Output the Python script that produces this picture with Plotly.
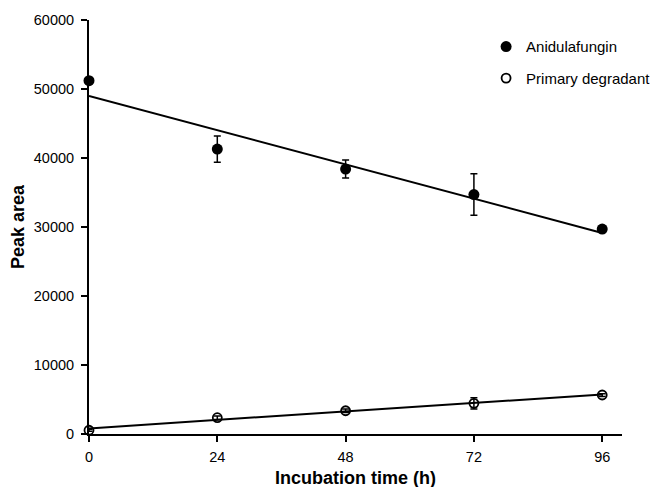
import numpy as np
import plotly.graph_objects as go

time_h = [0, 24, 48, 72, 96]
anid_area = [51200, 41300, 38400, 34700, 29700]
anid_err = [300, 1900, 1300, 3000, 400]
degr_area = [540, 2360, 3370, 4440, 5650]
degr_err = [150, 250, 250, 800, 200]
x_ticks = [0, 24, 48, 72, 96]
y_ticks = [0, 10000, 20000, 30000, 40000, 50000, 60000]

font_family = "Liberation Sans, Arial, sans-serif"

fig = go.Figure()

xfit = np.array([min(time_h), max(time_h)])
for vals in (anid_area, degr_area):
    slope, icpt = np.polyfit(time_h, vals, 1)
    fig.add_trace(go.Scatter(x=xfit, y=icpt + slope * xfit, mode="lines",
                             line=dict(color="black", width=2), showlegend=False,
                             hoverinfo="skip", cliponaxis=False))

fig.add_trace(go.Scatter(
    x=time_h, y=anid_area, mode="markers", name="Anidulafungin",
    legendgroup="a",
    marker=dict(symbol="circle", size=11, color="black"),
    error_y=dict(type="data", array=anid_err, color="black", thickness=1.5, width=3.5),
    cliponaxis=False))
fig.add_trace(go.Scatter(
    x=time_h, y=degr_area, mode="markers", name="Primary degradant",
    legendgroup="b",
    marker=dict(symbol="circle-open", size=9, color="black", line=dict(width=1.8)),
    error_y=dict(type="data", array=degr_err, color="black", thickness=1.5, width=3.5),
    cliponaxis=False))

fig.update_layout(
    width=654, height=487, autosize=False,
    margin=dict(l=89, r=32, t=20, b=53, autoexpand=False),
    paper_bgcolor="white", plot_bgcolor="white",
    font=dict(family=font_family, size=14.5, color="black"),
    showlegend=True,
    legend=dict(x=0.745, y=0.975, xanchor="left", yanchor="top",
                tracegroupgap=9, font=dict(size=15), bgcolor="rgba(0,0,0,0)"),
    xaxis=dict(range=[0, 99.7], tickvals=x_ticks, ticktext=[str(v) for v in x_ticks],
               showline=True, linecolor="black", linewidth=2,
               ticks="outside", ticklen=6, tickwidth=1.5, tickcolor="black",
               ticklabelstandoff=3,
               showgrid=False, zeroline=False, automargin=False),
    yaxis=dict(range=[0, 60000], tickvals=y_ticks, ticktext=[str(v) for v in y_ticks],
               showline=True, linecolor="black", linewidth=2,
               ticks="outside", ticklen=6, tickwidth=1.5, tickcolor="black",
               ticklabelstandoff=4,
               showgrid=False, zeroline=False, automargin=False),
    annotations=[
        dict(text="<b>Incubation time (h)</b>", xref="paper", yref="paper",
             x=0.5, y=0, yshift=-44, xanchor="center", yanchor="middle",
             showarrow=False, font=dict(size=18)),
        dict(text="<b>Peak area</b>", xref="paper", yref="paper",
             x=0, y=0.5, xshift=-71, xanchor="center", yanchor="middle",
             textangle=-90, showarrow=False, font=dict(size=18)),
    ],
)

post = ("document.body.style.margin='0';document.body.style.overflow='hidden';"
        "var gd=document.getElementById('{plot_id}');"
        "Plotly.relayout(gd,{width:654,height:487});")
fig.write_html("out.html", config={"responsive": False, "displayModeBar": False},
               post_script=post)
